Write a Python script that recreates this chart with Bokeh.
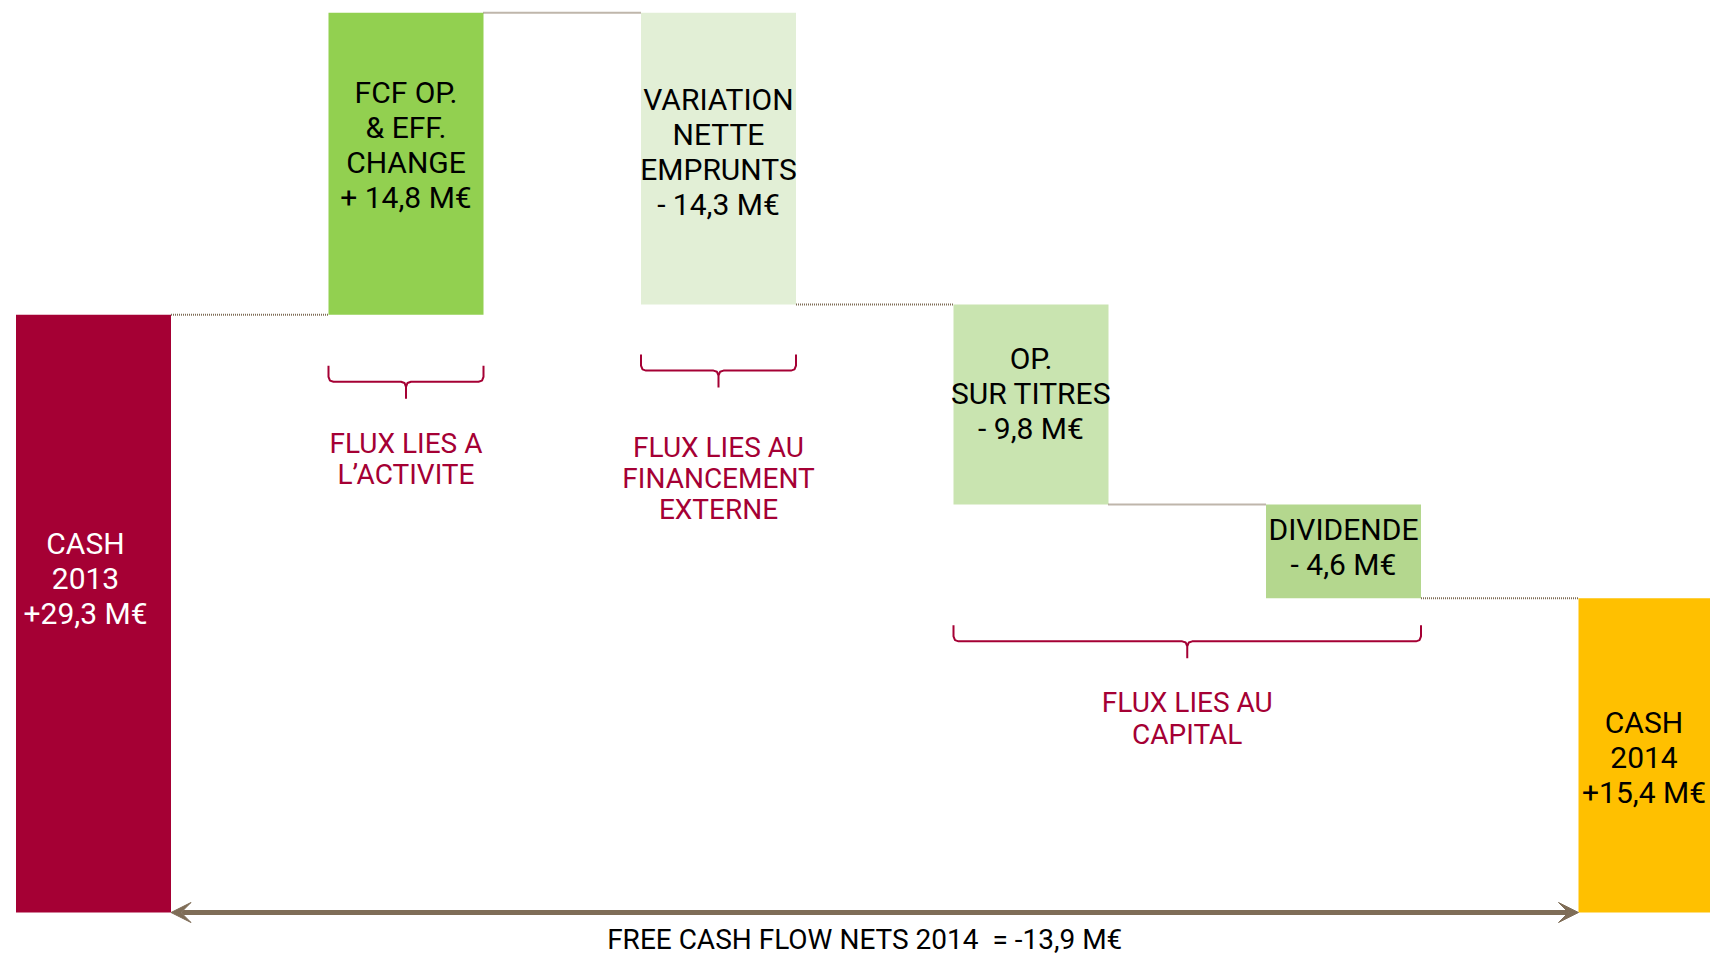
from bokeh.plotting import figure
from bokeh.models import Range1d, Arrow, VeeHead, ColumnDataSource
from bokeh.embed import file_html
from bokeh.resources import INLINE
from bokeh.core.properties import value

# ---------------- data ----------------
steps = ["CASH\n2013", "FCF OP.\n& EFF.\nCHANGE", "VARIATION\nNETTE\nEMPRUNTS",
         "OP.\nSUR TITRES", "DIVIDENDE", "CASH\n2014"]
amounts = [29.3, 14.8, -14.3, -9.8, -4.6, 15.4]          # M€
is_total = [True, False, False, False, False, True]
bar_colors = ["#A50034", "#92D050", "#E2EFD6", "#C9E4B0", "#B4D78E", "#FFC000"]
label_colors = ["#FFFFFF", "#000000", "#000000", "#000000", "#000000", "#000000"]
group_names = ["FLUX LIES A\nL\u2019ACTIVITE", "FLUX LIES AU\nFINANCEMENT\nEXTERNE",
               "FLUX LIES AU\nCAPITAL"]
group_members = [[1], [2], [3, 4]]
footer_name = "FREE CASH FLOW NETS 2014"
unit = "M\u20ac"

# ---------------- layout constants (screen px) ----------------
W, H = 1710, 956
XPX, X0PX = 312.5, 93.0       # px per slot, px of first slot centre
YPX, Y0PX = 20.4, 912.0       # px per M€, px (from top) of value 0
BAR_W = 155.0 / XPX
PX = 1.0 / YPX                # data units per vertical px
FONT = value("Roboto")
CRIMSON = "#A50034"
BROWN = "#7F6D57"

def fr(v):
    return f"{abs(v):.1f}".replace(".", ",")

# ---------------- waterfall geometry from data ----------------
bottoms, tops, ends = [], [], []
level = 0.0
for a, tot in zip(amounts, is_total):
    if tot:
        b, t = 0.0, a
        level = a
    else:
        start = level
        level = level + a
        b, t = min(start, level), max(start, level)
    bottoms.append(b)
    tops.append(t)
    ends.append(level)

idx = list(range(len(steps)))
value_labels = []
for a, tot in zip(amounts, is_total):
    if tot:
        value_labels.append(f"+{fr(a)} {unit}")
    else:
        value_labels.append(f"{'+' if a > 0 else '-'} {fr(a)} {unit}")
bar_texts = [f"{s}\n{v}" for s, v in zip(steps, value_labels)]
text_offsets_px = [35, 19, 7, 11, 4, -2]
text_dx_px = [-8, 0, 0, 0, 0, -12]
text_x = [i + dx / XPX for i, dx in zip(idx, text_dx_px)]
text_y = [(b + t) / 2 + o * PX for b, t, o in zip(bottoms, tops, text_offsets_px)]

p = figure(width=W, height=H,
           x_range=Range1d(-X0PX / XPX, (W - X0PX) / XPX),
           y_range=Range1d(-(H - Y0PX) / YPX, Y0PX / YPX),
           output_backend="svg", toolbar_location=None,
           x_axis_type=None, y_axis_type=None, min_border=0)
p.grid.visible = False
p.outline_line_color = None
p.background_fill_color = "white"
p.border_fill_color = "white"

src = ColumnDataSource(dict(x=idx, bottom=bottoms, top=tops, color=bar_colors,
                            tx=text_x, ty=text_y, txt=bar_texts, tcol=label_colors))
p.vbar(x="x", width=BAR_W, bottom="bottom", top="top", fill_color="color",
       line_color=None, source=src)
p.text(x="tx", y="ty", text="txt", text_color="tcol", source=src,
       text_align="center", text_baseline="middle", text_font=FONT,
       text_font_size=value("30px"), text_line_height=1.0)

# dotted connectors
cx0 = [i + BAR_W / 2 for i in idx[:-1]]
cx1 = [i + 1 - BAR_W / 2 for i in idx[:-1]]
cy = ends[:-1]
p.segment(x0=cx0, y0=cy, x1=cx1, y1=cy, line_color=BROWN, line_width=2,
          line_dash="1 1")

# curly braces under groups + group labels
gaps_px = [51, 50, 27]
label_off_px = [60, 91, 60]
bx, by, lx, ly = [], [], [], []
for members, gap, loff in zip(group_members, gaps_px, label_off_px):
    x0 = min(members) - BAR_W / 2
    x1 = max(members) + BAR_W / 2
    xc = (x0 + x1) / 2
    base = min(bottoms[m] for m in members)
    yt = base - gap * PX
    yl = yt - 16 * PX
    yp = yl - 17 * PX
    r = 5.0 / XPX
    bx.append([x0, x0, x0 + r * 0.3, x0 + r, xc - r, xc - r * 0.3, xc, xc,
               xc, xc + r * 0.3, xc + r, x1 - r, x1 - r * 0.3, x1, x1])
    by.append([yt, yl + 5 * PX, yl + 1.2 * PX, yl, yl, yl - 1.2 * PX, yl - 5 * PX, yp,
               yl - 5 * PX, yl - 1.2 * PX, yl, yl, yl + 1.2 * PX, yl + 5 * PX, yt])
    lx.append(xc)
    ly.append(yp - loff * PX)
p.multi_line(xs=bx, ys=by, line_color=CRIMSON, line_width=2)
p.text(x=lx, y=ly, text=group_names, text_color=CRIMSON, text_align="center",
       text_baseline="middle", text_font=FONT, text_font_size=value("28px"),
       text_line_height=0.95)

# double arrow between the two cash bars
arrow_y = 0.0
p.add_layout(Arrow(start=VeeHead(size=20, fill_color=BROWN, line_color=BROWN),
                   end=VeeHead(size=20, fill_color=BROWN, line_color=BROWN),
                   x_start=idx[0] + BAR_W / 2, y_start=arrow_y,
                   x_end=idx[-1] - BAR_W / 2, y_end=arrow_y,
                   line_color=BROWN, line_width=5))

net = amounts[-1] - amounts[0]
footer = f"{footer_name}\u00a0\u00a0= {'-' if net < 0 else '+'}{fr(net)} {unit}"
p.text(x=[(idx[0] + idx[-1]) / 2 - 10.0 / XPX], y=[arrow_y - 27 * PX], text=[footer],
       text_color="#000000", text_align="center", text_baseline="middle",
       text_font=FONT, text_font_size=value("28px"))

open("out.html", "w").write(file_html(p, INLINE))
